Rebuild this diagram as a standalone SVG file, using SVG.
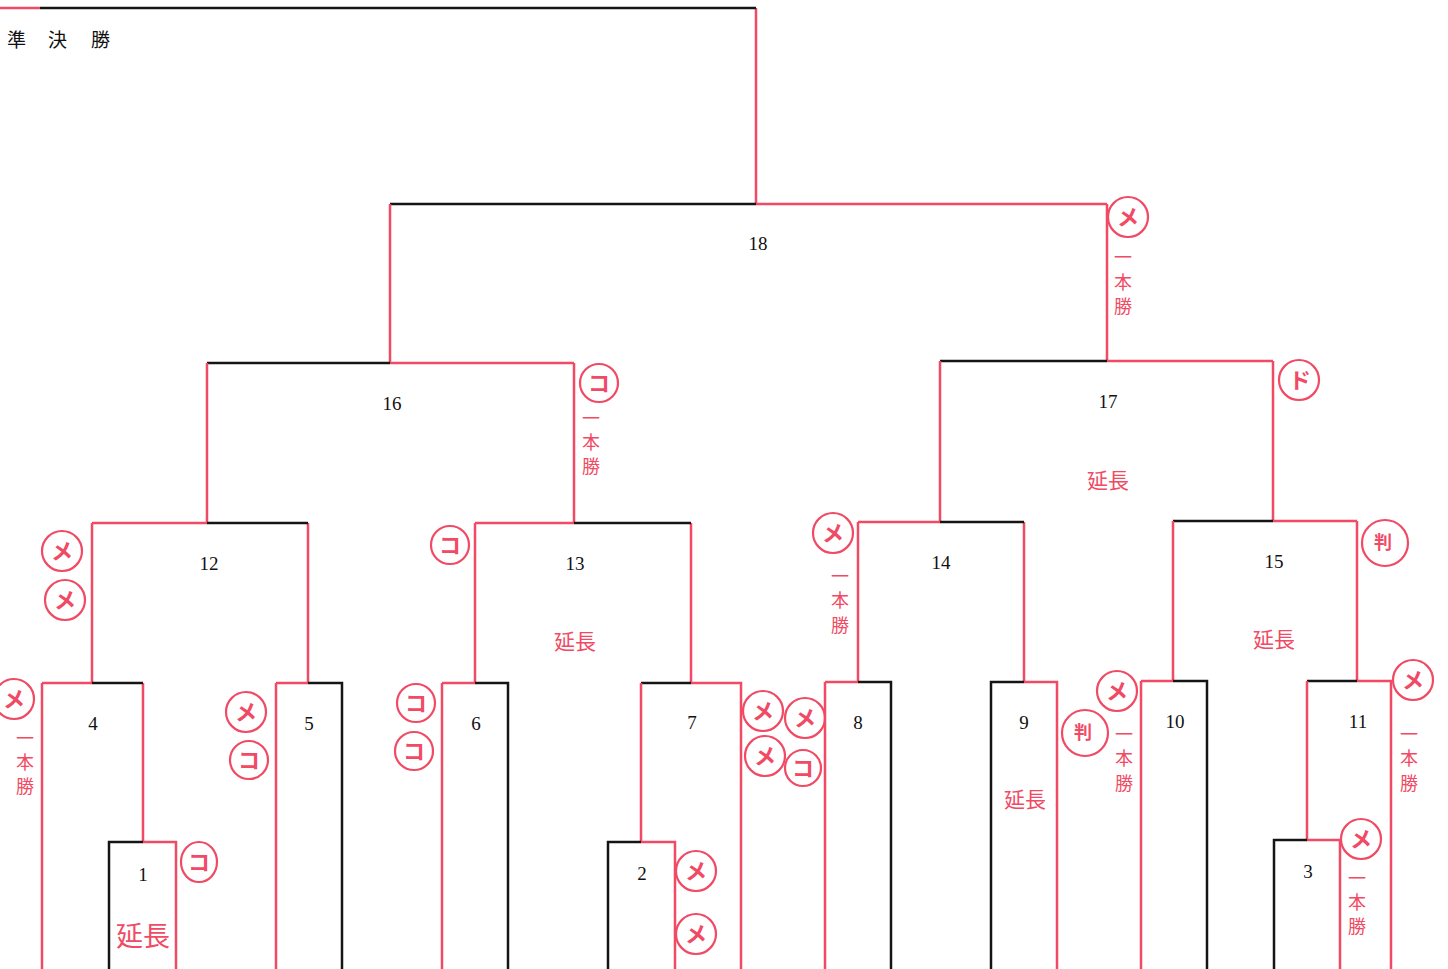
<svg xmlns="http://www.w3.org/2000/svg" width="1448" height="969" viewBox="0 0 1448 969">
<style>
.r{stroke:#f04a64;stroke-width:2.5;fill:none}
.k{stroke:#151515;stroke-width:2.5;fill:none}
.num{font-family:"Liberation Serif",serif;font-size:19px;fill:#111;text-anchor:middle}
.ttl{font-family:"Noto Sans CJK JP","Liberation Serif",serif;font-size:19px;fill:#111}
.ext{font-family:"Noto Sans CJK JP",sans-serif;font-size:21px;fill:#f04a64;text-anchor:middle}
.ext2{font-family:"Noto Sans CJK JP",sans-serif;font-size:27px;fill:#f04a64;text-anchor:middle}
.ip{font-family:"Noto Sans CJK JP",sans-serif;font-size:18px;fill:#f04a64;text-anchor:middle}
.c{stroke:#f04a64;stroke-width:2.2;fill:none}
.m{font-family:"Noto Sans CJK JP",sans-serif;font-size:22px;font-weight:bold;fill:#f04a64;text-anchor:middle}
.ms{font-family:"Noto Sans CJK JP",sans-serif;font-size:18px;font-weight:bold;fill:#f04a64;text-anchor:middle}
</style>
<rect width="1448" height="969" fill="#fff"/>
<g id="connectors">
<path class="r" d="M0 8H40M756 8V204"/>
<path class="k" d="M40 8H756"/>
<path class="k" d="M390 204H756"/><path class="r" d="M756 204H1107M390 204V363M1107 204V361"/>
<path class="k" d="M207 363H390"/><path class="r" d="M390 363H574M207 363V523M574 363V523"/>
<path class="k" d="M940 361H1107"/><path class="r" d="M1107 361H1273M940 361V522M1273 361V521"/>
<path class="r" d="M92 523H207M92 523V683M308 523V683"/><path class="k" d="M207 523H308"/>
<path class="r" d="M475 523H574M475 523V683M691 523V683"/><path class="k" d="M574 523H691"/>
<path class="r" d="M858 522H940M858 522V682M1024 522V682"/><path class="k" d="M940 522H1024"/>
<path class="k" d="M1173 521H1273"/><path class="r" d="M1273 521H1357M1173 521V681M1357 521V681"/>
<path class="r" d="M42 683H92M42 683V969M143 683V842"/><path class="k" d="M92 683H143"/>
<path class="r" d="M276 683H308M276 683V969"/><path class="k" d="M308 683H342V969"/>
<path class="r" d="M442 683H475M442 683V969"/><path class="k" d="M475 683H508V969"/>
<path class="k" d="M641 683H691"/><path class="r" d="M691 683H741V969M641 683V842"/>
<path class="r" d="M825 682H858M825 682V969"/><path class="k" d="M858 682H891V969"/>
<path class="k" d="M991 969V682H1024"/><path class="r" d="M1024 682H1057V969"/>
<path class="r" d="M1141 681H1173M1141 681V969"/><path class="k" d="M1173 681H1207V969"/>
<path class="k" d="M1307 681H1357"/><path class="r" d="M1357 681H1391V969M1307 681V840"/>
<path class="k" d="M109 969V842H143"/><path class="r" d="M143 842H176V969"/>
<path class="k" d="M608 969V842H641"/><path class="r" d="M641 842H675V969"/>
<path class="k" d="M1274 969V840H1307"/><path class="r" d="M1307 840H1340V969"/>
</g>
<g id="title"><text class="ttl" x="7" y="47">準</text><text class="ttl" x="48" y="47">決</text><text class="ttl" x="91" y="47">勝</text></g>
<g id="m18"><text class="num" x="758" y="250">18</text>
<circle class="c" cx="1128" cy="217" r="20"/><text class="m" x="1128" y="225">メ</text>
<text class="ip" x="1123" y="264">一</text><text class="ip" x="1123" y="289">本</text><text class="ip" x="1123" y="313">勝</text></g>
<g id="m16"><text class="num" x="392" y="410">16</text>
<circle class="c" cx="599" cy="383" r="19"/><text class="m" x="599" y="391">コ</text>
<text class="ip" x="591" y="425">一</text><text class="ip" x="591" y="449">本</text><text class="ip" x="591" y="473">勝</text></g>
<g id="m17"><text class="num" x="1108" y="408">17</text><text class="ext" x="1108" y="488">延長</text>
<circle class="c" cx="1299" cy="380" r="20"/><text class="m" x="1300" y="388">ド</text></g>
<g id="m12"><text class="num" x="209" y="570">12</text>
<circle class="c" cx="62" cy="551" r="20"/><text class="m" x="62" y="559">メ</text>
<circle class="c" cx="65" cy="600" r="20"/><text class="m" x="65" y="608">メ</text></g>
<g id="m13"><text class="num" x="575" y="570">13</text><text class="ext" x="575" y="649">延長</text>
<circle class="c" cx="450" cy="545" r="19"/><text class="m" x="450" y="553">コ</text></g>
<g id="m14"><text class="num" x="941" y="569">14</text>
<circle class="c" cx="833" cy="533" r="20"/><text class="m" x="833" y="541">メ</text>
<text class="ip" x="840" y="583">一</text><text class="ip" x="840" y="607">本</text><text class="ip" x="840" y="632">勝</text></g>
<g id="m15"><text class="num" x="1274" y="568">15</text><text class="ext" x="1274" y="647">延長</text>
<circle class="c" cx="1385" cy="543" r="23"/><text class="ms" x="1383" y="549">判</text></g>
<g id="m4"><text class="num" x="93" y="730">4</text>
<circle class="c" cx="14" cy="699" r="20"/><text class="m" x="14" y="707">メ</text>
<text class="ip" x="25" y="745">一</text><text class="ip" x="25" y="769">本</text><text class="ip" x="25" y="793">勝</text></g>
<g id="m5"><text class="num" x="309" y="730">5</text>
<circle class="c" cx="246" cy="712" r="20"/><text class="m" x="246" y="720">メ</text>
<circle class="c" cx="249" cy="760" r="19"/><text class="m" x="249" y="768">コ</text></g>
<g id="m6"><text class="num" x="476" y="730">6</text>
<circle class="c" cx="416" cy="703" r="19"/><text class="m" x="416" y="711">コ</text>
<circle class="c" cx="414" cy="751" r="19"/><text class="m" x="414" y="759">コ</text></g>
<g id="m7"><text class="num" x="692" y="729">7</text>
<circle class="c" cx="763" cy="711" r="20"/><text class="m" x="763" y="719">メ</text>
<circle class="c" cx="805" cy="718" r="20"/><text class="m" x="805" y="726">メ</text>
<circle class="c" cx="765" cy="756" r="20"/><text class="m" x="765" y="764">メ</text>
<circle class="c" cx="803" cy="768" r="18"/><text class="m" x="803" y="776">コ</text></g>
<g id="m8"><text class="num" x="858" y="729">8</text></g>
<g id="m9"><text class="num" x="1024" y="729">9</text><text class="ext" x="1025" y="807">延長</text>
<circle class="c" cx="1117" cy="691" r="20"/><text class="m" x="1117" y="699">メ</text>
<circle class="c" cx="1085" cy="733" r="23"/><text class="ms" x="1083" y="739">判</text>
<text class="ip" x="1124" y="741">一</text><text class="ip" x="1124" y="765">本</text><text class="ip" x="1124" y="790">勝</text></g>
<g id="m10"><text class="num" x="1175" y="728">10</text></g>
<g id="m11"><text class="num" x="1358" y="728">11</text>
<circle class="c" cx="1413" cy="680" r="20"/><text class="m" x="1413" y="688">メ</text>
<text class="ip" x="1409" y="741">一</text><text class="ip" x="1409" y="765">本</text><text class="ip" x="1409" y="790">勝</text></g>
<g id="m1"><text class="num" x="143" y="881">1</text><text class="ext2" x="143" y="946">延長</text>
<ellipse class="c" cx="199" cy="862" rx="18" ry="20"/><text class="m" x="199" y="870">コ</text></g>
<g id="m2"><text class="num" x="642" y="880">2</text>
<circle class="c" cx="696" cy="871" r="20"/><text class="m" x="696" y="879">メ</text>
<circle class="c" cx="696" cy="934" r="20"/><text class="m" x="696" y="942">メ</text></g>
<g id="m3"><text class="num" x="1308" y="878">3</text>
<circle class="c" cx="1361" cy="839" r="20"/><text class="m" x="1361" y="847">メ</text>
<text class="ip" x="1357" y="885">一</text><text class="ip" x="1357" y="909">本</text><text class="ip" x="1357" y="933">勝</text></g>
</svg>
